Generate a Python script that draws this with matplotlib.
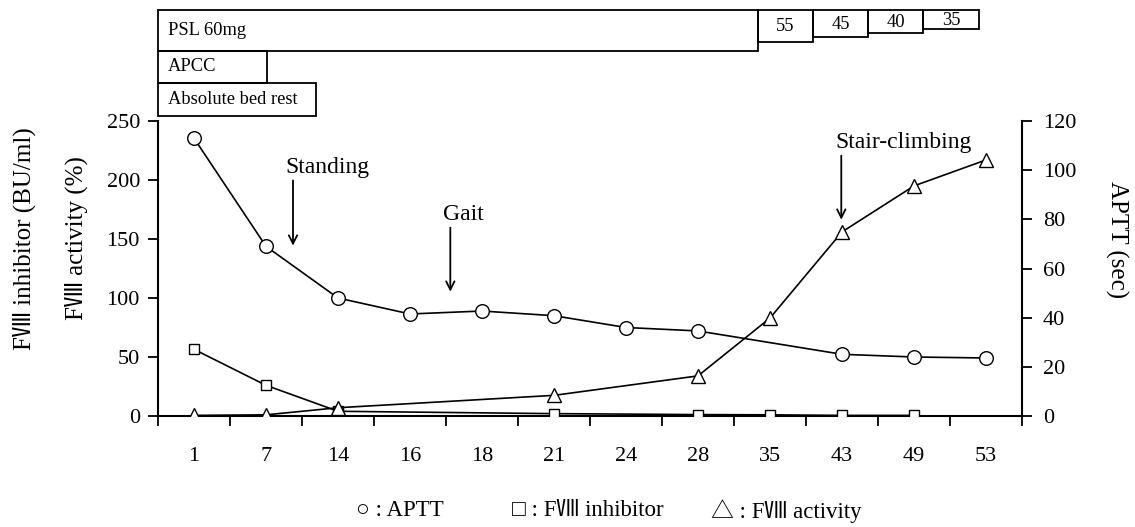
import matplotlib
matplotlib.use("Agg")
import matplotlib.pyplot as plt
from matplotlib.patches import Rectangle
import numpy as np

plt.rcParams['font.family'] = ['Liberation Serif', 'Noto Sans CJK JP', 'DejaVu Sans']

# ---- data ----
days = ['1', '7', '14', '16', '18', '21', '24', '28', '35', '43', '49', '53']
aptt = [113, 69, 48, 41.5, 42.7, 40.8, 36, 34.6, None, 25.1, 24, 23.6]
inhibitor = [56.5, 26, 4, None, None, 2, None, 1.2, 1, 0.5, 0.5, None]
activity = [0.5, 1, 7, None, None, 17.5, None, 34, 83, 156, 195, 217]

# treatment bars (in category units along the x axis)
psl_labels = ['PSL 60mg', '55', '45', '40', '35']
psl_ends = [7.83, 8.6, 9.36, 10.13, 10.9]
psl_bottoms = [1.237, 1.269, 1.286, 1.297, 1.311]

W, H = 1135, 527
fig = plt.figure(figsize=(W / 100, H / 100), dpi=100)
ax = fig.add_axes([158 / W, (H - 416) / H, 864 / W, 295 / H])
ax2 = ax.twinx()

x = np.arange(len(days))

def clean(vals):
    xs = [xi for xi, v in zip(x, vals) if v is not None]
    ys = [v for v in vals if v is not None]
    return xs, ys

xi, yi = clean(inhibitor)
ax.plot(xi, yi, color='black', lw=1.2, marker='s', ms=7, mfc='white', mec='black', mew=1.0, zorder=3)
xa, ya = clean(activity)
ax.plot(xa, ya, color='black', lw=1.2, marker='^', ms=10, mfc='white', mec='black', mew=1.0, zorder=4)
xp, yp = clean(aptt)
ax2.plot(xp, yp, color='black', lw=1.2, marker='o', ms=9.8, mfc='white', mec='black', mew=1.0, zorder=5)

ax.set_xlim(-0.5, len(days) - 0.5)
ax.set_ylim(0, 250)
ax2.set_ylim(0, 120)
ax.set_yticks([0, 50, 100, 150, 200, 250])
ax2.set_yticks([0, 20, 40, 60, 80, 100, 120])

ax.set_xticks(np.arange(-0.5, len(days), 1.0))
ax.set_xticklabels([])
ax.set_xticks(x, minor=True)
ax.set_xticklabels(days, minor=True)
ax.tick_params(axis='x', which='major', direction='out', length=7, width=1.3)
ax.tick_params(axis='x', which='minor', length=0, labelsize=16, pad=22)
ax.tick_params(axis='y', direction='out', length=7, width=1.3, labelsize=16, pad=6)
ax2.tick_params(axis='y', direction='out', length=7, width=1.3, labelsize=16, pad=8)

for a in (ax, ax2):
    a.spines['top'].set_visible(False)
    for s in ('left', 'right', 'bottom'):
        a.spines[s].set_linewidth(1.5)
ax.spines['right'].set_visible(False)
ax2.spines['left'].set_visible(False)
ax2.spines['bottom'].set_visible(False)
ax.patch.set_visible(False)

# annotations
arrow = dict(arrowstyle='->', color='black', lw=1.3, mutation_scale=15)
ax.annotate('', xy=(1.375, 142), xytext=(1.375, 202), arrowprops=arrow)
ax.text(1.86, 202, 'Standing', ha='center', va='bottom', fontsize=17)
ax.annotate('', xy=(3.56, 103), xytext=(3.56, 162), arrowprops=arrow)
ax.text(3.74, 162, 'Gait', ha='center', va='bottom', fontsize=17)
ax.annotate('', xy=(8.99, 164), xytext=(8.99, 223), arrowprops=arrow)
ax.text(9.85, 223, 'Stair-climbing', ha='center', va='bottom', fontsize=17)

# treatment boxes above the axes
trans = ax.get_xaxis_transform()
top = 1.376
start = -0.5
for lab, end, bot in zip(psl_labels, psl_ends, psl_bottoms):
    ax.add_patch(Rectangle((start, bot), end - start, top - bot, transform=trans,
                           fill=False, ec='black', lw=1.3, clip_on=False))
    if lab.startswith('PSL'):
        ax.text(start + 0.14, (top + bot) / 2, lab, transform=trans, ha='left', va='center', fontsize=13.3)
    else:
        ax.text((start + end) / 2, (top + bot) / 2 - 0.003, lab, transform=trans, ha='center', va='center', fontsize=13.3)
    start = end

other = [('APCC', 1.01, 1.130, 1.237), ('Absolute bed rest', 1.69, 1.018, 1.130)]
for lab, end, bot, tp in other:
    ax.add_patch(Rectangle((-0.5, bot), end + 0.5, tp - bot, transform=trans,
                           fill=False, ec='black', lw=1.3, clip_on=False))
    ax.text(-0.36, (tp + bot) / 2, lab, transform=trans, ha='left', va='center', fontsize=13.3)

# axis labels
fig.text(24 / W, 1 - 239 / H, 'FⅧ inhibitor (BU/ml)', rotation=90, ha='center', va='center', fontsize=18)
fig.text(76 / W, 1 - 238 / H, 'FⅧ activity (%)', rotation=90, ha='center', va='center', fontsize=18)
fig.text(1117 / W, 1 - 240 / H, 'APTT (sec)', rotation=270, ha='center', va='center', fontsize=18)

# legend text
fig.text(400 / W, 1 - 511 / H, '○ : APTT', ha='center', va='center', fontsize=16.5)
fig.text(588 / W, 1 - 511 / H, '□ : FⅧ inhibitor', ha='center', va='center', fontsize=16.5)
fig.text(786 / W, 1 - 511 / H, '△ : FⅧ activity', ha='center', va='center', fontsize=16.5)

fig.savefig('out.png', dpi=100, facecolor='white')
